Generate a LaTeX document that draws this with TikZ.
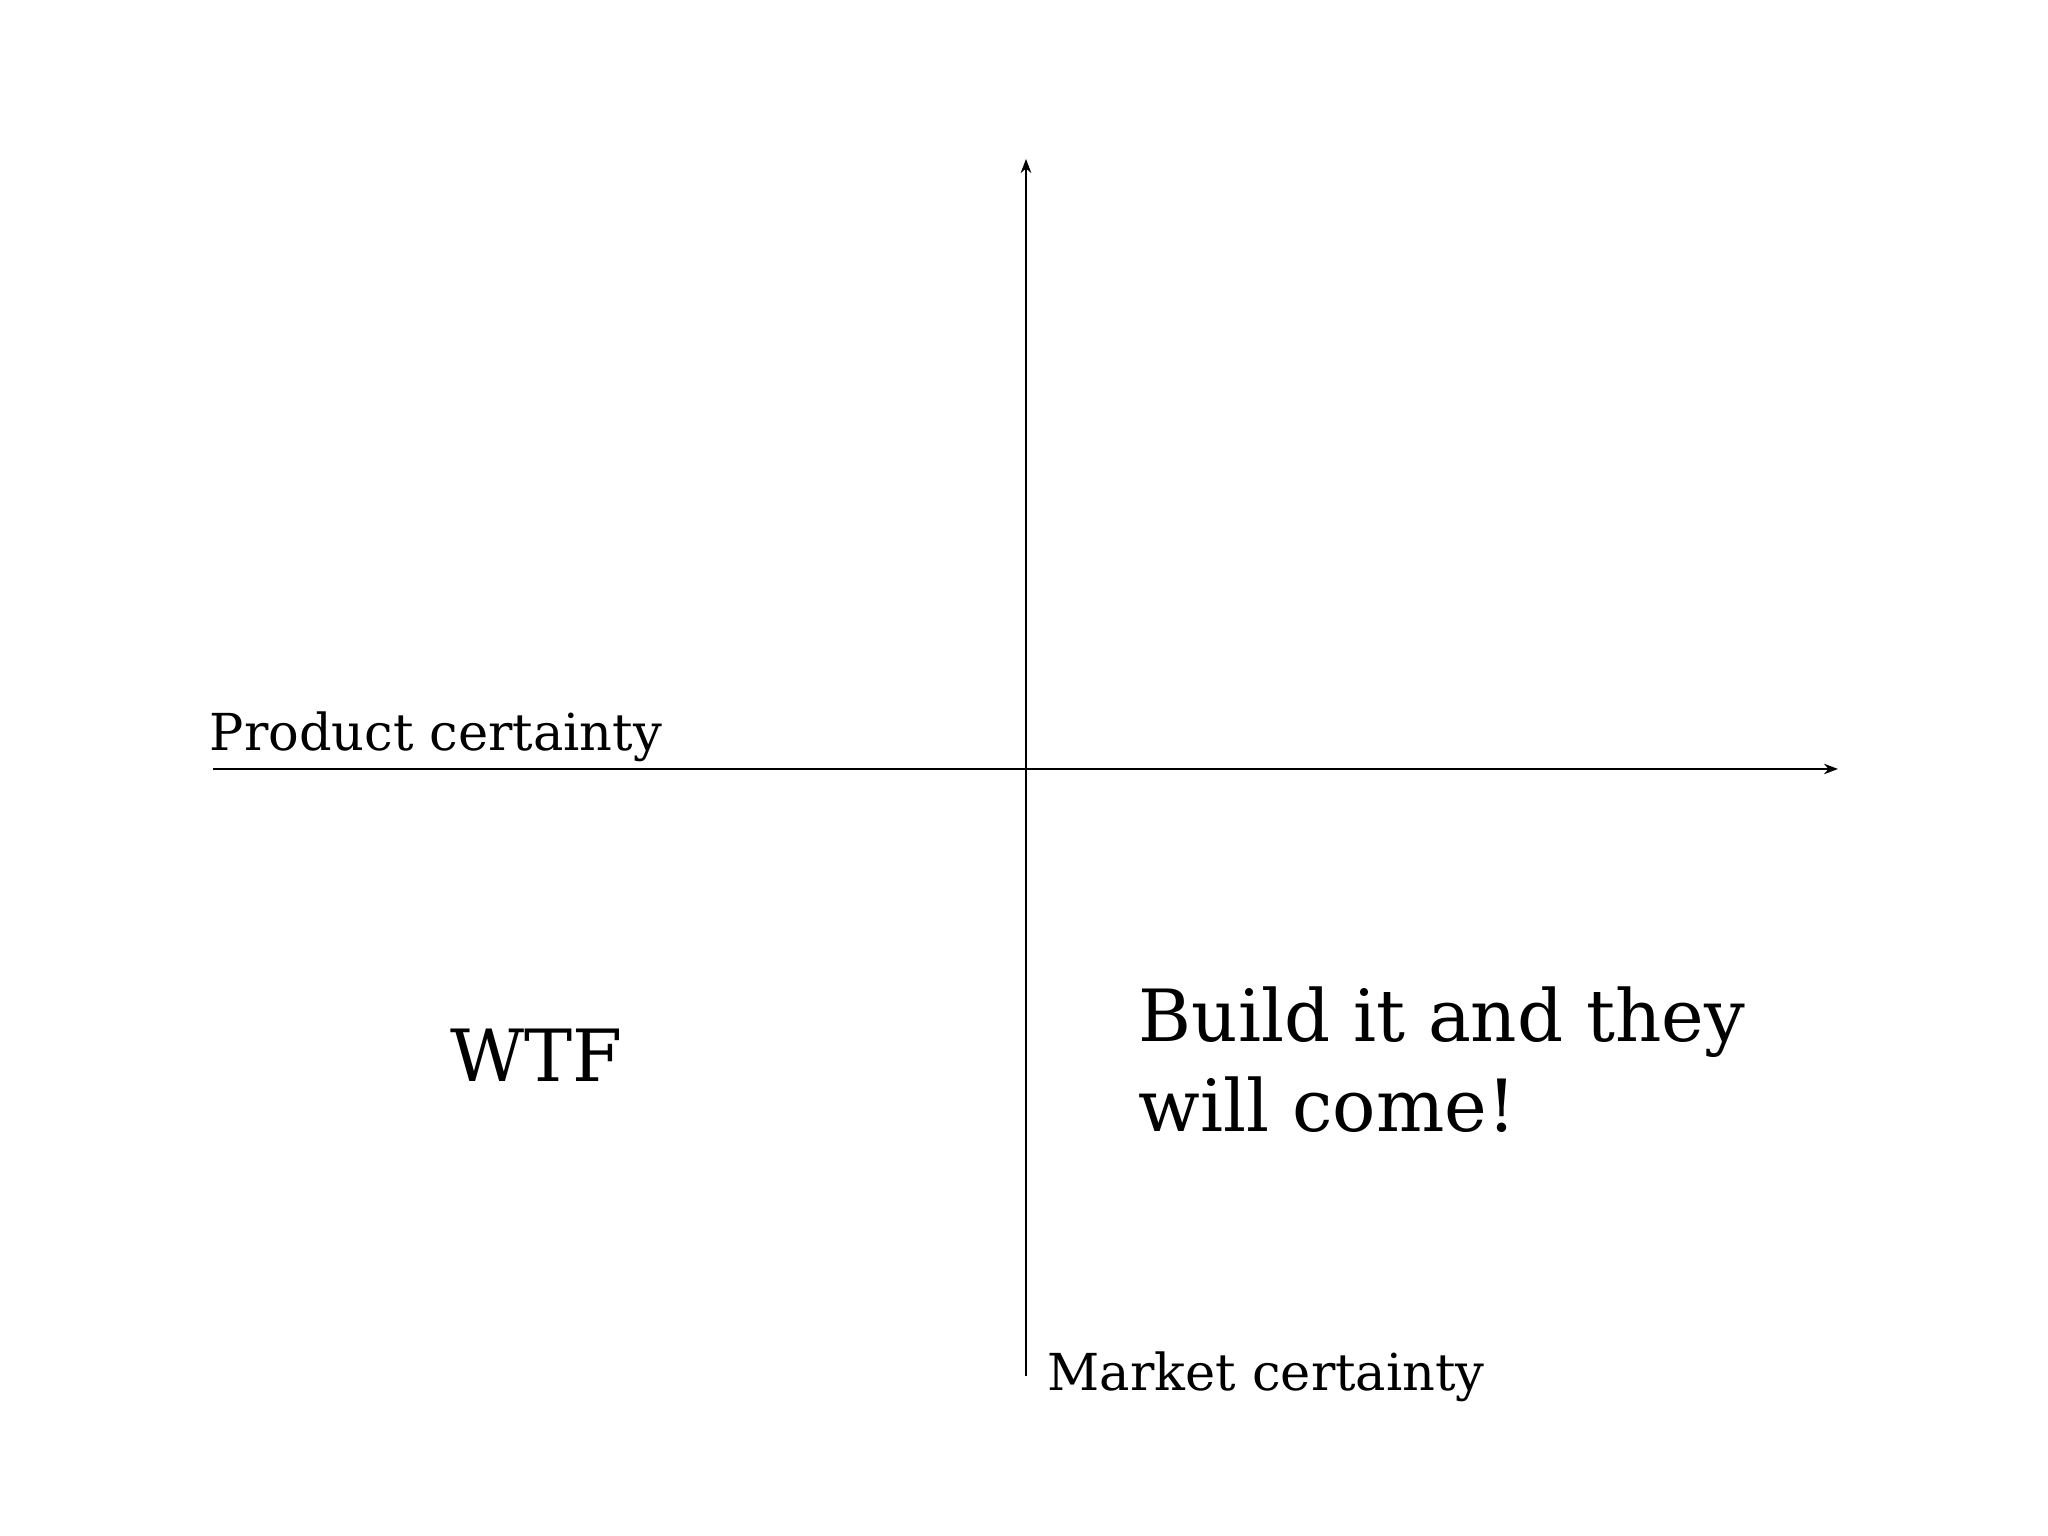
\documentclass[tikz,border=0pt]{standalone}
\usepackage{fontspec}
\setmainfont{DejaVu Serif}
\usetikzlibrary{arrows.meta}
\begin{document}
\begin{tikzpicture}[
  axis/.style={line width=0.6pt,-{Stealth[length=4pt,width=3pt]}},
  lab/.style={anchor=base west,inner sep=0pt,font=\fontsize{14.5}{17}\selectfont},
  big/.style={anchor=base west,inner sep=0pt,align=left,font=\fontsize{20.5}{25.5}\selectfont}]
\useasboundingbox (0,0) rectangle (20.48,15.36);
\coordinate (vb) at (10.26,1.60);
\coordinate (vt) at (10.26,13.77);
\coordinate (hl) at (2.13,7.67);
\coordinate (hr) at (18.38,7.67);
\draw[axis] (vb) -- (vt);
\draw[axis] (hl) -- (hr);
\node[lab] (pc) at (2.09,7.85) {Product certainty};
\node[lab] (mc) at (10.47,1.45) {Market certainty};
\node[big] (wtf) at (4.50,4.54) {WTF};
\node[big] (b1) at (11.38,4.94) {Build it and they};
\node[big] (b2) at (11.38,4.04) {will come!};
\end{tikzpicture}
\end{document}
